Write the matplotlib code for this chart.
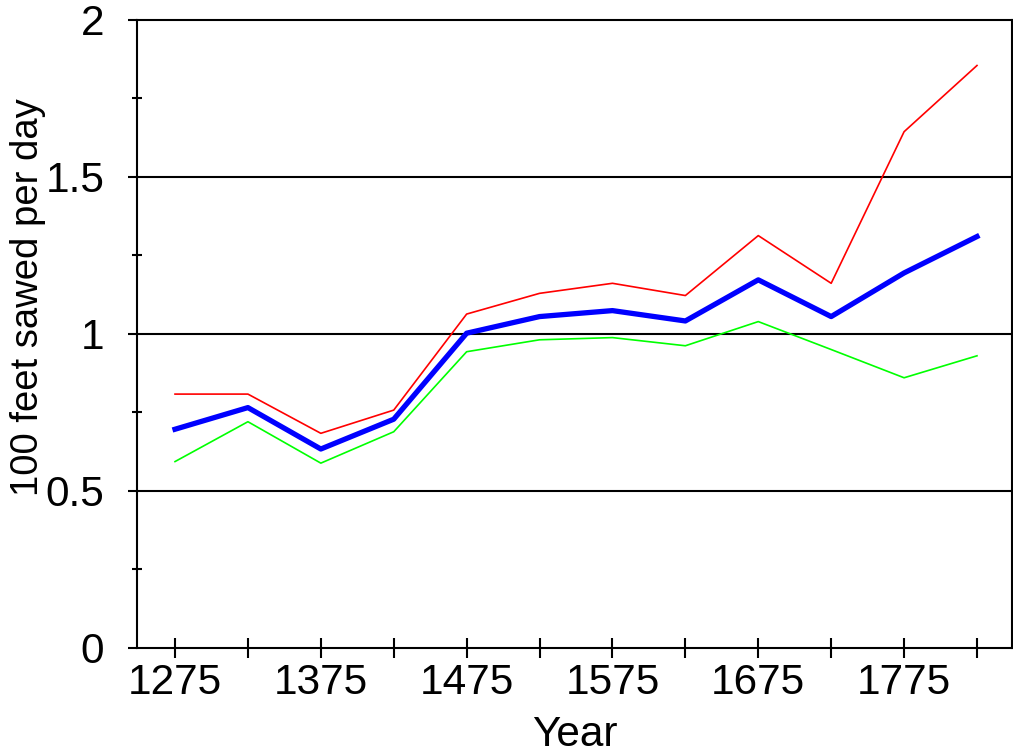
import numpy as np
import matplotlib
matplotlib.use("Agg")
import matplotlib.pyplot as plt
from matplotlib.ticker import MultipleLocator, FixedLocator

plt.rcParams['font.family'] = ['Liberation Sans', 'DejaVu Sans']

### data

years = [1275, 1325, 1375, 1425, 1475, 1525, 1575, 1625, 1675, 1725, 1775, 1825]
upper = [0.808, 0.808, 0.683, 0.757, 1.063, 1.129, 1.161, 1.122, 1.313, 1.161, 1.644, 1.855]
mean = [0.696, 0.765, 0.633, 0.728, 1.002, 1.055, 1.074, 1.041, 1.172, 1.055, 1.194, 1.310]
lower = [0.593, 0.720, 0.588, 0.688, 0.943, 0.981, 0.988, 0.962, 1.039, 0.950, 0.860, 0.930]
label_years = [1275, 1375, 1475, 1575, 1675, 1775]

fig = plt.figure(figsize=(10.13, 7.54), dpi=100)
ax = fig.add_axes([0.1352, 0.141, 0.8638, 0.8325])

# gridlines first so lines sit on top
for yv in [0.5, 1.0, 1.5]:
    ax.axhline(yv, color='black', lw=1.5, zorder=1)

ax.plot(years, upper, color='#ff0000', lw=1.2, zorder=3)
ax.plot(years, lower, color='#00ff00', lw=1.2, zorder=3)
ax.plot(years, mean, color='#0000ff', lw=3.8, zorder=4)

ax.set_xlim(1248.9, 1849)
ax.set_ylim(0, 2)

ax.xaxis.set_major_locator(FixedLocator(label_years))
ax.xaxis.set_minor_locator(FixedLocator([y for y in years if y not in label_years]))
ax.yaxis.set_minor_locator(MultipleLocator(0.25))
ax.set_yticks([0, 0.5, 1, 1.5, 2])
ax.set_yticklabels(['0', '0.5', '1', '1.5', '2'])

ax.tick_params(axis='x', which='both', direction='inout', length=15, width=1.5,
               labelsize=30.5, pad=3.5)
ax.tick_params(axis='y', which='major', direction='out', length=6.5, width=1.5,
               labelsize=30.5, pad=17)
ax.tick_params(axis='y', which='minor', direction='inout', length=7, width=1.5)

for sp in ax.spines.values():
    sp.set_linewidth(1.5)

ax.set_xlabel('Year', fontsize=30.5)
ax.xaxis.set_label_coords(0.5, -0.107)
ax.set_ylabel('100 feet sawed per day', fontsize=27.5)
ax.yaxis.set_label_coords(-0.104, 0.558)

fig.savefig('out.png', dpi=100)
